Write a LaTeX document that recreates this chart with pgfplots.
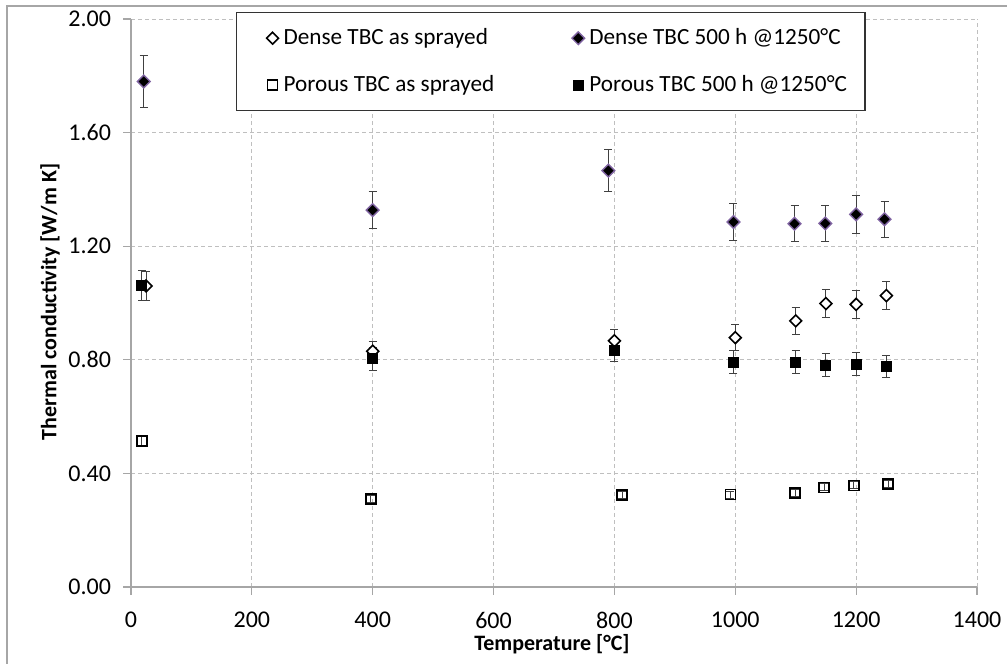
\documentclass[border=0pt]{standalone}
\usepackage{pgfplots}
\pgfplotsset{compat=1.18}
\usepackage{fontspec}
\setmainfont{Carlito}
\definecolor{gridc}{HTML}{BFBFBF}
\definecolor{axc}{HTML}{A6A6A6}
\definecolor{errc}{HTML}{404040}
\definecolor{edgep}{HTML}{8064A2}
\begin{document}
\begin{tikzpicture}[x=0.5pt,y=0.5pt]
\useasboundingbox (0,0) rectangle (1007,664);
\draw[gray!70, line width=0.75pt] (7,-20) -- (7,658) -- (1030,658);
\begin{axis}[
 at={(65.5pt,38.5pt)}, anchor=south west,
 scale only axis, width=423pt, height=284pt,
 xmin=0, xmax=1400, ymin=0, ymax=2,
 xtick={0,200,400,600,800,1000,1200,1400},
 ytick={0,0.4,0.8,1.2,1.6,2},
 grid=major,
 major grid style={gridc, dash pattern=on 2pt off 1.5pt, line width=0.4pt},
 axis x line*=bottom, axis y line*=left,
 axis line style={axc, line width=0.6pt, -},
 tick style={axc, line width=0.6pt}, major tick length=4pt, tick align=outside,
 x tick label style={font=\fontsize{12}{14}\selectfont, yshift=-5pt, /pgf/number format/.cd, 1000 sep={}, assume math mode=true},
 y tick label style={font=\fontsize{12}{14}\selectfont, xshift=-2.5pt, /pgf/number format/.cd, fixed, fixed zerofill, precision=2, assume math mode=true},
 legend columns=2,
 legend cell align=left,
 legend image code/.code={\path[draw=none,fill=none] (-11pt,0pt) -- (3.5pt,0pt); \draw[#1] plot coordinates {(0pt,0pt)};},
 legend style={at={(0.1241,1.0123)}, anchor=north west, draw=black!80, line width=0.6pt, fill=white,
   font=\fontsize{11.6}{13}\selectfont, inner xsep=7pt, inner ysep=4pt, row sep=6pt,
   nodes={inner xsep=2pt, inner ysep=4pt},
   /tikz/every even column/.append style={column sep=29pt}},
 error bars/error bar style={errc, line width=0.5pt},
 error bars/error mark options={rotate=90, errc, mark size=2pt, line width=0.5pt},
]
% Dense TBC as sprayed
\addplot[only marks, mark=square*, mark size=2.1pt, mark options={rotate=45, fill=white, draw=black, line width=0.8pt},
  error bars/.cd, y dir=both, y explicit] table[x=x, y=y, y error=e] {
x y e
25 1.060 0.050
400 0.830 0.035
800 0.867 0.040
1000 0.878 0.045
1100 0.937 0.047
1150 0.998 0.050
1200 0.995 0.050
1250 1.026 0.050
};
\addlegendentry{Dense TBC as sprayed}
% Dense TBC 500 h
\addplot[only marks, mark=square*, mark size=2.25pt, mark options={rotate=45, fill=black, draw=edgep, line width=0.7pt},
  error bars/.cd, y dir=both, y explicit] table[x=x, y=y, y error=e] {
x y e
21 1.780 0.090
400 1.327 0.065
790 1.466 0.073
997 1.285 0.065
1098 1.279 0.064
1149 1.280 0.063
1200 1.312 0.066
1247 1.295 0.064
};
\addlegendentry{Dense TBC 500 h @1250°C}
% Porous TBC as sprayed
\addplot[only marks, mark=square, mark size=2.5pt, mark options={draw=black, line width=0.8pt},
  error bars/.cd, y dir=both, y explicit] table[x=x, y=y, y error=e] {
x y e
18 0.515 0.020
397 0.310 0.012
813 0.324 0.012
992 0.325 0.012
1099 0.332 0.012
1147 0.351 0.012
1196 0.358 0.012
1253 0.362 0.012
};
\addlegendentry{Porous TBC as sprayed}
% Porous TBC 500 h
\addplot[only marks, mark=square*, mark size=2.5pt, mark options={fill=black, draw=black, line width=0.5pt},
  error bars/.cd, y dir=both, y explicit] table[x=x, y=y, y error=e] {
x y e
18 1.061 0.053
400 0.804 0.040
800 0.834 0.040
997 0.792 0.040
1100 0.792 0.040
1150 0.781 0.040
1200 0.785 0.040
1250 0.776 0.040
};
\addlegendentry{Porous TBC 500 h @1250°C}
\end{axis}
\node[font=\bfseries\fontsize{11}{13}\selectfont] at (552,20) {Temperature [°C]};
\node[font=\bfseries\fontsize{11}{13}\selectfont, rotate=90] at (50,362) {Thermal conductivity [W/m K]};
\end{tikzpicture}
\end{document}
